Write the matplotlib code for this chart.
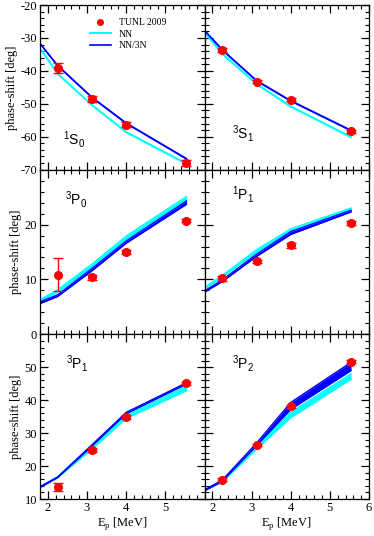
import matplotlib

matplotlib.use("Agg")
import matplotlib.pyplot as plt
from matplotlib.lines import Line2D
from matplotlib.ticker import MultipleLocator

# proton energies [MeV]
e_exp = [2.25, 3.13, 4.00, 5.54]
e_th = [1.8, 2.25, 3.13, 4.00, 5.54]

# 1S0
s10_exp = [-39.1, -48.6, -56.3, -68.0]
s10_err = [1.6, 0.9, 0.7, 0.9]
s10_nn_lo = [-33.2, -41.0, -50.5, -58.7, -68.3]
s10_nn_hi = [-33.0, -40.8, -50.3, -58.5, -68.1]
s10_3n_lo = [-31.8, -38.5, -48.2, -56.0, -66.8]
s10_3n_hi = [-31.6, -38.3, -48.0, -55.8, -66.6]

# 3S1
s31_exp = [-33.8, -43.3, -48.8, -58.4]
s31_err = [0.6, 0.5, 0.5, 0.5]
s31_nn_lo = [-28.3, -34.9, -44.1, -50.9, -60.2]
s31_nn_hi = [-28.1, -34.7, -43.9, -50.7, -60.0]
s31_3n_lo = [-27.8, -33.7, -43.1, -49.2, -58.2]
s31_3n_hi = [-27.6, -33.5, -42.9, -49.0, -58.0]

# 3P0
p30_exp = [10.9, 10.4, 15.0, 20.7]
p30_err = [3.0, 0.5, 0.4, 0.3]
p30_nn_lo = [6.0, 7.7, 12.2, 17.3, 24.4]
p30_nn_hi = [6.3, 8.1, 12.8, 17.9, 25.1]
p30_3n_lo = [5.6, 6.9, 11.6, 16.6, 23.7]
p30_3n_hi = [5.9, 7.2, 12.0, 17.0, 24.3]

# 1P1
p11_exp = [10.2, 13.3, 16.2, 20.3]
p11_err = [0.4, 0.3, 0.4, 0.4]
p11_nn_lo = [8.3, 10.4, 15.0, 18.8, 22.7]
p11_nn_hi = [8.5, 10.7, 15.4, 19.2, 23.0]
p11_3n_lo = [7.7, 9.6, 14.2, 18.2, 22.3]
p11_3n_hi = [7.9, 9.9, 14.6, 18.7, 22.6]

# 3P1
p31_exp = [13.7, 24.9, 34.9, 45.1]
p31_err = [1.2, 0.5, 0.5, 0.5]
p31_nn_lo = [13.5, 16.5, 25.2, 34.5, 42.9]
p31_nn_hi = [13.7, 16.7, 26.0, 35.3, 44.2]
p31_3n_lo = [13.5, 16.5, 26.1, 35.9, 44.9]
p31_3n_hi = [13.7, 16.7, 26.5, 36.3, 45.3]

# 3P2
p32_exp = [15.9, 26.4, 38.1, 51.7]
p32_err = [0.4, 0.4, 0.4, 0.5]
p32_nn_lo = [12.5, 15.2, 25.2, 34.7, 46.4]
p32_nn_hi = [12.7, 15.5, 26.0, 36.3, 48.0]
p32_3n_lo = [12.5, 15.3, 26.2, 37.2, 49.0]
p32_3n_hi = [12.8, 15.7, 27.0, 39.3, 51.5]

labels = [
    r"$^\mathregular{1}$S$_\mathregular{0}$",
    r"$^\mathregular{3}$S$_\mathregular{1}$",
    r"$^\mathregular{3}$P$_\mathregular{0}$",
    r"$^\mathregular{1}$P$_\mathregular{1}$",
    r"$^\mathregular{3}$P$_\mathregular{1}$",
    r"$^\mathregular{3}$P$_\mathregular{2}$",
]

RED = "#ff0000"
CYAN = "#00ffff"
BLUE = "#0000ff"

plt.rcParams.update(
    {
        "font.family": ["Liberation Serif", "DejaVu Serif"],
        "font.size": 9,
        "axes.unicode_minus": False,
        "axes.linewidth": 0.9,
        "xtick.direction": "in",
        "ytick.direction": "in",
        "xtick.top": True,
        "ytick.right": True,
        "xtick.major.size": 6,
        "ytick.major.size": 6,
        "xtick.minor.size": 3,
        "ytick.minor.size": 3,
        "xtick.major.width": 0.9,
        "ytick.major.width": 0.9,
        "xtick.minor.width": 0.8,
        "ytick.minor.width": 0.8,
        "xtick.major.pad": 2,
        "ytick.major.pad": 2,
    }
)

panels = [
    (s10_exp, s10_err, s10_nn_lo, s10_nn_hi, s10_3n_lo, s10_3n_hi),
    (s31_exp, s31_err, s31_nn_lo, s31_nn_hi, s31_3n_lo, s31_3n_hi),
    (p30_exp, p30_err, p30_nn_lo, p30_nn_hi, p30_3n_lo, p30_3n_hi),
    (p11_exp, p11_err, p11_nn_lo, p11_nn_hi, p11_3n_lo, p11_3n_hi),
    (p31_exp, p31_err, p31_nn_lo, p31_nn_hi, p31_3n_lo, p31_3n_hi),
    (p32_exp, p32_err, p32_nn_lo, p32_nn_hi, p32_3n_lo, p32_3n_hi),
]
row_ylim = [(-70, -20), (0, 30), (10, 60)]
row_yticks = [[-70, -60, -50, -40, -30, -20], [0, 10, 20], [10, 20, 30, 40, 50]]
col_xticks = [[2, 3, 4, 5], [2, 3, 4, 5, 6]]
label_pos = [(0.14, 0.15), (0.17, 0.19), (0.15, 0.79), (0.17, 0.82), (0.16, 0.79), (0.17, 0.79)]

fig, axes = plt.subplots(3, 2, figsize=(3.74, 5.36), dpi=100)
fig.subplots_adjust(left=40 / 374, right=369 / 374, top=1 - 5 / 536, bottom=1 - 499 / 536,
                    wspace=0, hspace=0)

for i, ax in enumerate(axes.flat):
    row, col = divmod(i, 2)
    exp, err, nn_lo, nn_hi, tn_lo, tn_hi = panels[i]

    ax.fill_between(e_th, nn_lo, nn_hi, color=CYAN, lw=0)
    ax.plot(e_th, nn_lo, color=CYAN, lw=1.1)
    ax.plot(e_th, nn_hi, color=CYAN, lw=1.1)
    ax.fill_between(e_th, tn_lo, tn_hi, color=BLUE, lw=0)
    ax.plot(e_th, tn_lo, color=BLUE, lw=1.0)
    ax.plot(e_th, tn_hi, color=BLUE, lw=1.0)
    ax.errorbar(e_exp, exp, yerr=err, fmt="o", color=RED, ms=5.5,
                elinewidth=1.0, capsize=3.6, capthick=1.0, zorder=5)

    ax.set_xlim(1.8, 6.0)
    ax.set_ylim(*row_ylim[row])
    ax.set_yticks(row_yticks[row])
    ax.set_xticks(col_xticks[col])
    ax.xaxis.set_minor_locator(MultipleLocator(0.2))
    ax.yaxis.set_minor_locator(MultipleLocator(2))

    if row < 2:
        ax.tick_params(axis="x", labelbottom=False)
    else:
        ax.set_xlabel(r"E$_\mathregular{p}$ [MeV]", labelpad=1)
    if col == 1:
        ax.tick_params(axis="y", labelleft=False)
    else:
        ax.set_ylabel("phase-shift [deg]", labelpad=2)

    ax.text(*label_pos[i], labels[i], transform=ax.transAxes,
            family=["Liberation Sans", "DejaVu Sans"], fontsize=10)

handles = [
    Line2D([], [], ls="none", marker="o", color=RED, ms=4),
    Line2D([], [], color=CYAN, lw=1.5),
    Line2D([], [], color=BLUE, lw=1.2),
]
axes[0, 0].legend(handles, ["TUNL 2009", "NN", "NN/3N"], loc="upper left",
                  bbox_to_anchor=(0.26, 0.96), frameon=False, fontsize=7,
                  handlelength=2.2, labelspacing=0.25, handletextpad=0.8,
                  borderpad=0.2)

fig.savefig("out.png", dpi=100)
